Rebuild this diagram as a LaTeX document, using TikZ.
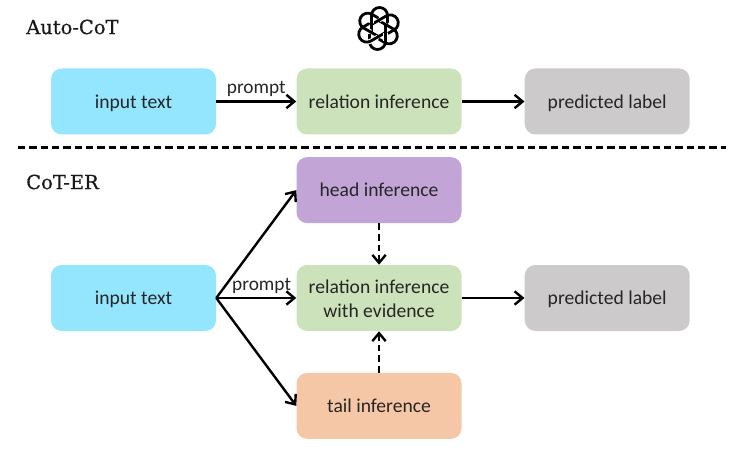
\documentclass[tikz,border=0pt]{standalone}
\usepackage{fontspec}
\setmainfont{Carlito}
\newfontfamily\headfont[FakeBold=0.5]{DejaVu Serif}
\usepackage{tikz}
\usetikzlibrary{arrows.meta, positioning}
\definecolor{inputblue}{RGB}{148, 229, 254}
\definecolor{relgreen}{RGB}{203, 226, 186}
\definecolor{labelgray}{RGB}{204, 202, 202}
\definecolor{headpurple}{RGB}{194, 165, 214}
\definecolor{tailorange}{RGB}{246, 199, 167}

\begin{document}
\begin{tikzpicture}[
    x=0.75pt, y=-0.75pt,
    box/.style={rectangle, rounded corners=8pt, minimum width=123.75pt, minimum height=49.5pt, align=center, font=\fontsize{14.7pt}{17.6pt}\selectfont, text=black!85, inner sep=0pt, text height=11.5pt, text depth=1.7pt},
    flow/.style={-{Straight Barb[length=6pt,width=10pt]}, line width=1.8pt, black},
    dep/.style={flow, dash pattern=on 5pt off 3pt},
    tag/.style={font=\fontsize{14.5pt}{16pt}\selectfont, text=black!85},
    head/.style={font=\headfont\fontsize{14.6pt}{16pt}\selectfont, text=black!90, anchor=west, inner sep=0pt},
    strand/.style={line width=2.1pt, black, line cap=round},
    halo/.style={line width=3.6pt, white}
]
\useasboundingbox (0,0) rectangle (736,453);

% upper pipeline
\node[box, fill=inputblue] (input1) at (133.5,101.5) {input text};
\node[box, fill=relgreen, right=60pt of input1] (rel1) {relation inference};
\node[box, fill=labelgray, right=47pt of rel1] (pred1) {predicted label};
\draw[flow] (input1) -- (rel1);
\draw[flow] (rel1) -- (pred1);
\node[tag, above=0pt of rel1.west, xshift=-30pt, anchor=south] (prompt1) {prompt};
\node[head] (auto) at (26,27) {Auto-CoT};

% logo
\begin{scope}[shift={(378.5,28.5)}]
\foreach \a in {0,60,...,300} {
  \draw[halo, rotate=\a] (7,5) -- (7,13) arc[start angle=0, delta angle=90, radius=8];
  \draw[strand, rotate=\a] (7,-4) -- (7,13) arc[start angle=0, delta angle=180, radius=8] -- (-9,6);
}
% first strand goes back over the last one
\draw[halo] (7,5) -- (7,13);
\draw[strand] (7,-4) -- (7,13);
\end{scope}

% separator
\coordinate (sepl) at (18,147.5);
\coordinate (sepr) at (726,147.5);
\draw[line width=1.6pt, dash pattern=on 5.5pt off 3pt] (sepl) -- (sepr);

% lower pipeline
\node[head] (coter) at (26,182) {CoT-ER};
\node[box, fill=inputblue] (input2) at (133.5,298) {input text};
\node[box, fill=relgreen, right=60pt of input2, text height=30.5pt] (rel2) {relation inference\\with evidence};
\node[box, fill=labelgray, right=47pt of rel2] (pred2) {predicted label};
\node[box, fill=headpurple, above=31pt of rel2] (headinf) {head inference};
\node[box, fill=tailorange, below=31pt of rel2] (tailinf) {tail inference};
\draw[flow] (input2.east) -- (rel2);
\draw[flow] (input2.east) -- (headinf.west);
\draw[flow] (input2.east) -- (tailinf.west);
\draw[flow] (rel2) -- (pred2);
\draw[dep] (headinf) -- (rel2);
\draw[dep] (tailinf) -- (rel2);
\node[tag, above=0pt of rel2.west, xshift=-26pt, anchor=south] (prompt2) {prompt};
\end{tikzpicture}
\end{document}
